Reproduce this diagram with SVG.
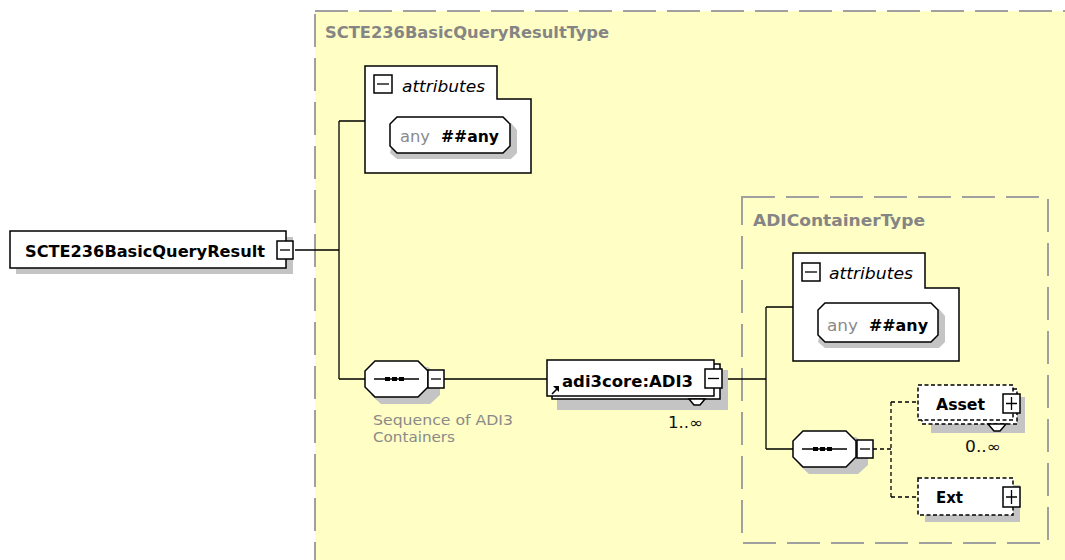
<svg xmlns="http://www.w3.org/2000/svg" width="1065" height="560" viewBox="0 0 1065 560">
<style>
text{font-family:"DejaVu Sans Condensed","DejaVu Sans",sans-serif;}
.type{fill:#fffec4;stroke:#a0a0a0;stroke-width:2;stroke-dasharray:33 11;}
.ttl{font-size:16px;font-weight:bold;fill:#858585;}
.box{fill:#fff;stroke:#000;stroke-width:1.5;}
.dbox{fill:#fff;stroke:#000;stroke-width:1.5;stroke-dasharray:4 2.5;}
.sh{fill:#c4c4c4;}
.ln{fill:none;stroke:#000;stroke-width:1.3;}
.dl{fill:none;stroke:#000;stroke-width:1.3;stroke-dasharray:4 3;}
.el{font-size:16px;font-weight:bold;fill:#000;}
.it{font-size:16px;font-style:italic;fill:#000;}
.gr{font-size:16px;fill:#8a8a8a;}
.lab{font-size:14px;fill:#8a8a8a;}
.occ{font-size:15px;fill:#111;}
</style>
<rect width="1065" height="560" fill="#fff"/>
<!-- outer type box -->
<g id="SCTE236BasicQueryResultType">
<rect class="type" x="315" y="11" width="780" height="580"/>
<text class="ttl" x="325" y="38" textLength="284" lengthAdjust="spacingAndGlyphs">SCTE236BasicQueryResultType</text>
</g>
<g id="ADIContainerType">
<rect class="type" x="742" y="197" width="306" height="346"/>
<text class="ttl" x="753" y="226" textLength="172" lengthAdjust="spacingAndGlyphs">ADIContainerType</text>
</g>
<!-- connectors -->
<g id="connectors">
<path class="ln" d="M295,250 H339 M339,121 V379 M339,121 H365 M339,379 H365 M444,379 H547 M722,379 H766 M766,307 V449 M766,307 H793 M766,449 H793"/>
<path class="dl" d="M873,449 H891 M891,402 V497 M891,402 H918 M891,497 H918"/>
</g>
<!-- main element -->
<g id="SCTE236BasicQueryResult">
<rect class="sh" x="16" y="237" width="277" height="37"/>
<rect class="box" x="10" y="231" width="276" height="37"/>
<text class="el" x="25" y="257" textLength="240" lengthAdjust="spacingAndGlyphs">SCTE236BasicQueryResult</text>
<rect class="box" x="277" y="241" width="16" height="18"/>
<path class="ln" d="M280,250 H290"/>
</g>
<!-- outer attributes -->
<g id="attributes1">
<path class="box" d="M365,66 H497 V99 H531 V173 H365 Z"/>
<rect class="box" x="374" y="75" width="18" height="18"/>
<path class="ln" d="M377,84 H389"/>
<text class="it" x="402" y="92" textLength="83" lengthAdjust="spacingAndGlyphs">attributes</text>
<polygon class="sh" points="397,123 511,123 517,130 517,153 511,159 397,159 390,153"/>
<polygon class="box" points="397,117 503,117 510,124 510,146 503,153 397,153 390,146 390,124"/>
<text x="400" y="142"><tspan class="gr" textLength="30" lengthAdjust="spacingAndGlyphs">any</tspan><tspan class="el" x="441" textLength="58" lengthAdjust="spacingAndGlyphs">##any</tspan></text>
</g>
<!-- sequence 1 -->
<g id="sequence1">
<polygon class="sh" points="381,367 428,367 440,377 440,395 430,404 381,404 371,395"/>
<polygon class="box" points="375,361 418,361 428,371 428,387 418,397 375,397 365,387 365,371"/>
<path class="ln" d="M374,379 H419"/>
<rect x="385" y="377" width="5" height="4" fill="#000"/>
<rect x="392" y="377" width="5" height="4" fill="#000"/>
<rect x="399" y="377" width="5" height="4" fill="#000"/>
<rect class="box" x="428" y="370" width="16" height="18"/>
<path class="ln" d="M431,379 H441"/>
<text class="lab" x="373" y="425" textLength="140" lengthAdjust="spacingAndGlyphs">Sequence of ADI3</text>
<text class="lab" x="373" y="442" textLength="82" lengthAdjust="spacingAndGlyphs">Containers</text>
</g>
<!-- ADI3 -->
<g id="ADI3">
<rect class="sh" x="557" y="370" width="171" height="40"/>
<rect class="box" x="552" y="364" width="168" height="35"/>
<rect class="box" x="547" y="360" width="167" height="36"/>
<polygon class="box" points="689,399 694,405 700,405 705,399"/>
<path d="M552,394 L558,388" stroke="#000" stroke-width="1.6"/>
<polygon points="559,386 559,392 553,386" fill="#000"/>
<text class="el" x="562" y="387" textLength="131" lengthAdjust="spacingAndGlyphs">adi3core:ADI3</text>
<rect class="box" x="705" y="369" width="17" height="19"/>
<path class="ln" d="M708,378.5 H719"/>
<text class="occ" x="668" y="428" textLength="35" lengthAdjust="spacingAndGlyphs">1..∞</text>
</g>
<!-- inner attributes -->
<g id="attributes2">
<path class="box" d="M793,253 H925 V288 H959 V361 H793 Z"/>
<rect class="box" x="802" y="263" width="18" height="18"/>
<path class="ln" d="M805,272 H817"/>
<text class="it" x="829" y="279" textLength="84" lengthAdjust="spacingAndGlyphs">attributes</text>
<polygon class="sh" points="825,309 939,309 945,316 945,342 939,348 825,348 818,342"/>
<polygon class="box" points="825,303 931,303 938,310 938,335 931,342 825,342 818,335 818,310"/>
<text x="827" y="331"><tspan class="gr" textLength="31" lengthAdjust="spacingAndGlyphs">any</tspan><tspan class="el" x="869" textLength="59" lengthAdjust="spacingAndGlyphs">##any</tspan></text>
</g>
<!-- sequence 2 -->
<g id="sequence2">
<polygon class="sh" points="809,437 856,437 868,447 868,465 858,474 809,474 799,465"/>
<polygon class="box" points="803,431 846,431 856,441 856,457 846,467 803,467 793,457 793,441"/>
<path class="ln" d="M802,449 H847"/>
<rect x="813" y="447" width="5" height="4" fill="#000"/>
<rect x="820" y="447" width="5" height="4" fill="#000"/>
<rect x="827" y="447" width="5" height="4" fill="#000"/>
<rect class="box" x="857" y="440" width="16" height="18"/>
<path class="ln" d="M860,449 H870"/>
</g>
<!-- Asset -->
<g id="Asset">
<rect class="sh" x="931" y="397" width="94" height="36"/>
<rect class="dbox" x="922" y="389" width="95" height="35"/>
<rect class="dbox" x="918" y="385" width="95" height="35"/>
<polygon class="box" points="988,424 994,431 1000,431 1006,424"/>
<text class="el" x="936" y="410" textLength="49" lengthAdjust="spacingAndGlyphs">Asset</text>
<rect class="box" x="1003" y="394" width="17" height="19"/>
<path class="ln" d="M1006,403.5 H1017 M1011.5,397 V410"/>
<text class="occ" x="965" y="452" textLength="36" lengthAdjust="spacingAndGlyphs">0..∞</text>
</g>
<!-- Ext -->
<g id="Ext">
<rect class="sh" x="925" y="485" width="95" height="37"/>
<rect class="dbox" x="918" y="478" width="95" height="37"/>
<text class="el" x="936" y="503" textLength="27" lengthAdjust="spacingAndGlyphs">Ext</text>
<rect class="box" x="1003" y="487" width="17" height="20"/>
<path class="ln" d="M1006,497 H1017 M1011.5,490 V504"/>
</g>
</svg>
